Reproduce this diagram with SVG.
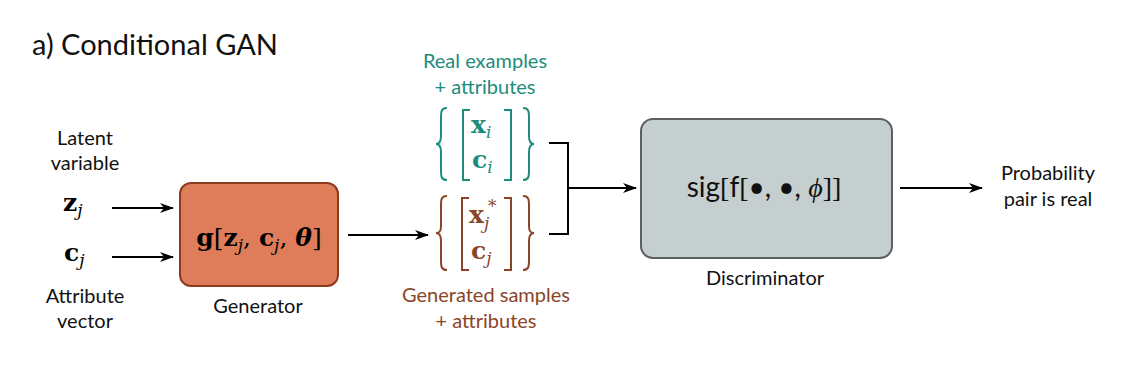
<svg xmlns="http://www.w3.org/2000/svg" width="1136" height="376" viewBox="0 0 1136 376">
<defs>
<marker id="ah" viewBox="0 0 14 10" refX="13" refY="5" markerWidth="14" markerHeight="10" markerUnits="userSpaceOnUse" orient="auto">
<path d="M0,0 L14,5 L0,10 L4,5 Z" fill="#000"/>
</marker>
<style>
.lbl{font-family:Lato,"Liberation Sans",sans-serif;font-size:20px;fill:#111;text-anchor:middle}
.title{font-family:Lato,"Liberation Sans",sans-serif;font-size:29px;fill:#111}
.m{font-family:"DejaVu Serif","Liberation Serif",serif;font-weight:bold;font-size:25px}
.sub{font-family:"DejaVu Serif","Liberation Serif",serif;font-style:italic;font-weight:normal;font-size:17px}
.rg{font-weight:normal}
.conn{fill:none;stroke:#000;stroke-width:2}
.br{fill:none;stroke-width:2}
</style>
</defs>
<rect width="1136" height="376" fill="#fff"/>
<text class="title" x="32" y="55">a) Conditional GAN</text>

<g id="inputs">
<text class="lbl" x="85" y="145">Latent</text>
<text class="lbl" x="85" y="170">variable</text>
<text class="m" x="63" y="211">z<tspan class="sub" dy="5">j</tspan></text>
<text class="m" x="64" y="261">c<tspan class="sub" dy="5">j</tspan></text>
<text class="lbl" x="85" y="303">Attribute</text>
<text class="lbl" x="85" y="328">vector</text>
</g>

<g id="generator">
<rect x="180" y="183" width="158" height="103" rx="11" fill="#DF7D5B" stroke="#8C3B1F" stroke-width="2"/>
<text class="m" x="259" y="246" text-anchor="middle">g<tspan class="rg">[</tspan>z<tspan class="sub" dy="5">j</tspan><tspan class="rg" dy="-5">, </tspan>c<tspan class="sub" dy="5">j</tspan><tspan class="rg" dy="-5">, </tspan><tspan font-style="italic">θ</tspan><tspan class="rg">]</tspan></text>
<text class="lbl" x="258" y="313">Generator</text>
</g>

<g id="real">
<text class="lbl" x="485" y="68" style="fill:#1E8C7A">Real examples</text>
<text class="lbl" x="485" y="94" style="fill:#1E8C7A">+ attributes</text>
<path class="br" stroke="#1E8C7A" d="M447 108 C441 108 441 112 441 118 L441 136 C441 141 440 144 436 144 C440 144 441 147 441 152 L441 170 C441 176 441 180 447 180"/>
<path class="br" stroke="#1E8C7A" d="M470 110 L463 110 L463 180 L470 180"/>
<path class="br" stroke="#1E8C7A" d="M504 110 L511 110 L511 180 L504 180"/>
<path class="br" stroke="#1E8C7A" d="M523 108 C529 108 529 112 529 118 L529 136 C529 141 530 144 534 144 C530 144 529 147 529 152 L529 170 C529 176 529 180 523 180"/>
<text class="m" x="471" y="133" fill="#1E8C7A">x<tspan class="sub" dy="5">i</tspan></text>
<text class="m" x="472" y="168" fill="#1E8C7A">c<tspan class="sub" dy="5">i</tspan></text>
</g>

<g id="generated">
<path class="br" stroke="#8A4528" d="M447 196 C441 196 441 200 441 206 L441 226 C441 231 440 233 436 233 C440 233 441 236 441 241 L441 260 C441 266 441 270 447 270"/>
<path class="br" stroke="#8A4528" d="M469 198 L462 198 L462 270 L469 270"/>
<path class="br" stroke="#8A4528" d="M504 198 L511 198 L511 270 L504 270"/>
<path class="br" stroke="#8A4528" d="M523 196 C529 196 529 200 529 206 L529 226 C529 231 530 233 534 233 C530 233 529 236 529 241 L529 260 C529 266 529 270 523 270"/>
<text class="m" x="469" y="223" fill="#8A4528">x<tspan class="sub" dy="6">j</tspan></text>
<text class="sub" x="488" y="212" fill="#8A4528" style="font-style:normal">*</text>
<text class="m" x="471" y="259" fill="#8A4528">c<tspan class="sub" dy="5">j</tspan></text>
<text class="lbl" x="486" y="302" style="fill:#8A4528">Generated samples</text>
<text class="lbl" x="486" y="328" style="fill:#8A4528">+ attributes</text>
</g>

<g id="discriminator">
<rect x="641" y="119" width="251" height="139" rx="12" fill="#C6CFD0" stroke="#5B6061" stroke-width="2"/>
<text x="764" y="197" text-anchor="middle" font-family="Lato,'Liberation Sans',sans-serif" font-size="28" fill="#111">sig<tspan font-family="'Liberation Serif',serif">[</tspan>f<tspan font-family="'Liberation Serif',serif">[</tspan>•, •, <tspan font-family="'Liberation Serif',serif" font-style="italic">ϕ</tspan><tspan font-family="'Liberation Serif',serif">]]</tspan></text>
<text class="lbl" x="765" y="285">Discriminator</text>
</g>

<g id="output">
<text class="lbl" x="1048" y="180">Probability</text>
<text class="lbl" x="1048" y="206">pair is real</text>
</g>

<g id="connectors">
<line class="conn" x1="112" y1="208" x2="173" y2="208" marker-end="url(#ah)"/>
<line class="conn" x1="112" y1="257" x2="173" y2="257" marker-end="url(#ah)"/>
<line class="conn" x1="348" y1="235" x2="428" y2="235" marker-end="url(#ah)"/>
<path class="conn" d="M549 143 L568 143 L568 234 L549 234"/>
<line class="conn" x1="568" y1="188" x2="636" y2="188" marker-end="url(#ah)"/>
<line class="conn" x1="900" y1="188" x2="982" y2="188" marker-end="url(#ah)"/>
</g>
</svg>
